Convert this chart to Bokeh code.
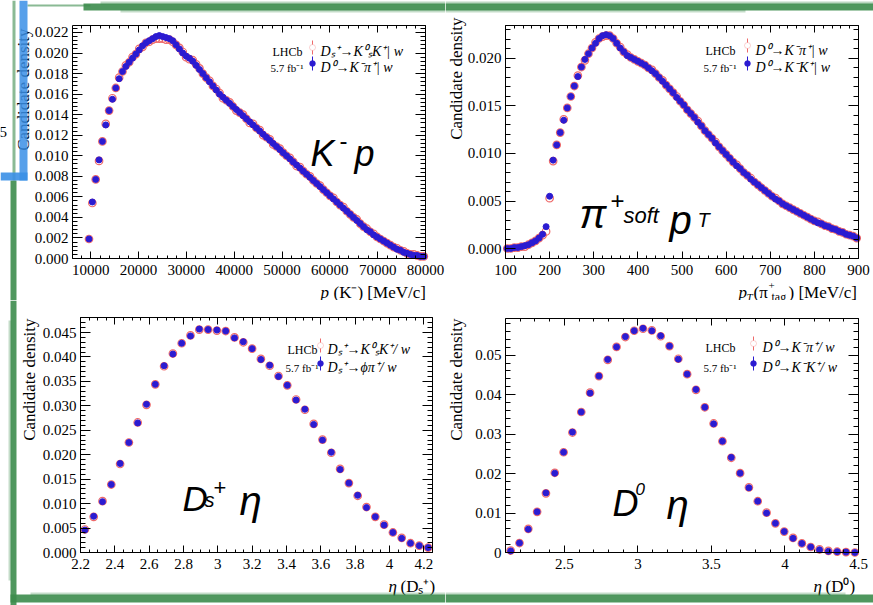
import numpy as np
from bokeh.plotting import figure
from bokeh.layouts import column, row
from bokeh.models import (LinearAxis, Label, BoxAnnotation, SingleIntervalTicker,
                          CustomJSTickFormatter, Range1d)
from bokeh.embed import file_html
from bokeh.resources import INLINE

# ---------------------------------------------------------------- data
# Kaon momentum p(K-) [MeV/c]: bin centres start / width
KP_START, KP_STEP = 9650, 700
kp_d0_kpi = [0.0019, 0.0055, 0.0077, 0.0096, 0.0114, 0.0130, 0.0144, 0.0155, 0.0166, 0.0175,
             0.0182, 0.0187, 0.0191, 0.0195, 0.0199, 0.0203, 0.0207, 0.0210, 0.0212, 0.0214,
             0.0216, 0.0217, 0.0216, 0.0215, 0.0214, 0.0212, 0.0208, 0.0204, 0.0200, 0.0197,
             0.0195, 0.0192, 0.0188, 0.0184, 0.0180, 0.0176, 0.0172, 0.0168, 0.0164, 0.0160,
             0.0157, 0.0154, 0.0151, 0.0148, 0.0145, 0.0142, 0.0139, 0.0136, 0.0133, 0.0130,
             0.0127, 0.0124, 0.0121, 0.0118, 0.0115, 0.0112, 0.0109, 0.0106, 0.0103, 0.0100,
             0.0097, 0.0094, 0.0091, 0.0088, 0.0085, 0.0082, 0.0079, 0.0076, 0.0073, 0.0070,
             0.0067, 0.0064, 0.0061, 0.0058, 0.0055, 0.0052, 0.0049, 0.0046, 0.0043, 0.0040,
             0.0037, 0.0034, 0.0031, 0.0028, 0.0026, 0.0023, 0.0021, 0.0019, 0.0017, 0.0015,
             0.0013, 0.0011, 0.0009, 0.0008, 0.0006, 0.0005, 0.0004, 0.0003, 0.0003, 0.0002,
             0.0002]
kp_ds_kskw = [0.0019, 0.0054, 0.0077, 0.0095, 0.0114, 0.0131, 0.0144, 0.0156, 0.0166, 0.0176,
              0.0182, 0.0188, 0.0191, 0.0196, 0.0199, 0.0204, 0.0206, 0.0210, 0.0211, 0.0213,
              0.0214, 0.0214, 0.0214, 0.0213, 0.0213, 0.0211, 0.0208, 0.0205, 0.0201, 0.0196,
              0.0194, 0.0193, 0.0189, 0.0185, 0.0180, 0.0176, 0.0173, 0.0168, 0.0165, 0.0161,
              0.0156, 0.0154, 0.0152, 0.0148, 0.0144, 0.0142, 0.0140, 0.0136, 0.0132, 0.0131,
              0.0127, 0.0125, 0.0120, 0.0118, 0.0116, 0.0111, 0.0109, 0.0107, 0.0103, 0.0100,
              0.0098, 0.0094, 0.0090, 0.0089, 0.0085, 0.0082, 0.0080, 0.0076, 0.0073, 0.0071,
              0.0067, 0.0064, 0.0061, 0.0059, 0.0055, 0.0052, 0.0050, 0.0046, 0.0043, 0.0040,
              0.0038, 0.0034, 0.0031, 0.0029, 0.0026, 0.0024, 0.0021, 0.0019, 0.0017, 0.0015,
              0.0013, 0.0011, 0.0010, 0.0008, 0.0007, 0.0005, 0.0004, 0.0004, 0.0003, 0.0002,
              0.0002]

# Soft (tagging) pion transverse momentum [MeV/c]
PT_START, PT_STEP = 104, 8
pt_d0_kk = [0.0000, 0.0000, 0.0001, 0.0001, 0.0002, 0.0003, 0.0004, 0.0006, 0.0008, 0.0011,
            0.0015, 0.0023, 0.0055, 0.0093, 0.0109, 0.0122, 0.0135, 0.0148, 0.0160, 0.0171,
            0.0181, 0.0191, 0.0199, 0.0205, 0.0211, 0.0216, 0.0221, 0.0224, 0.0225, 0.0224,
            0.0221, 0.0216, 0.0211, 0.0207, 0.0203, 0.0201, 0.0199, 0.0197, 0.0195, 0.0193,
            0.0190, 0.0187, 0.0184, 0.0180, 0.0176, 0.0172, 0.0168, 0.0164, 0.0159, 0.0155,
            0.0151, 0.0146, 0.0142, 0.0138, 0.0133, 0.0129, 0.0124, 0.0120, 0.0116, 0.0111,
            0.0107, 0.0103, 0.0099, 0.0095, 0.0091, 0.0087, 0.0084, 0.0080, 0.0077, 0.0073,
            0.0070, 0.0067, 0.0064, 0.0061, 0.0058, 0.0055, 0.0052, 0.0050, 0.0047, 0.0045,
            0.0043, 0.0041, 0.0039, 0.0037, 0.0035, 0.0033, 0.0031, 0.0029, 0.0027, 0.0026,
            0.0024, 0.0023, 0.0021, 0.0020, 0.0018, 0.0017, 0.0015, 0.0014, 0.0013, 0.0011]
pt_d0_kpi = [0.0000, 0.0000, 0.0001, 0.0001, 0.0002, 0.0002, 0.0004, 0.0006, 0.0008, 0.0011,
             0.0014, 0.0018, 0.0053, 0.0092, 0.0109, 0.0122, 0.0136, 0.0148, 0.0160, 0.0171,
             0.0182, 0.0191, 0.0198, 0.0205, 0.0211, 0.0217, 0.0221, 0.0223, 0.0224, 0.0224,
             0.0221, 0.0216, 0.0212, 0.0207, 0.0204, 0.0201, 0.0199, 0.0197, 0.0195, 0.0193,
             0.0190, 0.0188, 0.0184, 0.0180, 0.0177, 0.0172, 0.0168, 0.0164, 0.0160, 0.0155,
             0.0151, 0.0146, 0.0142, 0.0138, 0.0134, 0.0129, 0.0124, 0.0120, 0.0116, 0.0112,
             0.0107, 0.0103, 0.0099, 0.0095, 0.0091, 0.0088, 0.0084, 0.0080, 0.0077, 0.0074,
             0.0070, 0.0067, 0.0064, 0.0061, 0.0058, 0.0055, 0.0053, 0.0050, 0.0047, 0.0045,
             0.0043, 0.0041, 0.0039, 0.0037, 0.0035, 0.0033, 0.0031, 0.0029, 0.0028, 0.0026,
             0.0024, 0.0023, 0.0021, 0.0020, 0.0018, 0.0017, 0.0015, 0.0014, 0.0013, 0.0011]

# Ds+ pseudorapidity
ETA_DS_START, ETA_DS_STEP = 2.2256, 0.05125
eta_ds_phipi = [0.0046, 0.0074, 0.0104, 0.0139, 0.0182, 0.0225, 0.0265, 0.0303, 0.0344, 0.0382,
                0.0406, 0.0428, 0.0443, 0.0457, 0.0456, 0.0455, 0.0453, 0.0439, 0.0431, 0.0417,
                0.0395, 0.0383, 0.0360, 0.0342, 0.0312, 0.0293, 0.0262, 0.0230, 0.0205, 0.0170,
                0.0142, 0.0117, 0.0092, 0.0073, 0.0056, 0.0041, 0.0029, 0.0019, 0.0014, 0.0010]
eta_ds_kskw = [0.0047, 0.0073, 0.0105, 0.0139, 0.0181, 0.0225, 0.0266, 0.0302, 0.0344, 0.0381,
               0.0407, 0.0428, 0.0444, 0.0456, 0.0456, 0.0454, 0.0453, 0.0440, 0.0430, 0.0417,
               0.0396, 0.0382, 0.0361, 0.0342, 0.0313, 0.0292, 0.0263, 0.0231, 0.0204, 0.0171,
               0.0142, 0.0116, 0.0093, 0.0073, 0.0057, 0.0041, 0.0030, 0.0019, 0.0014, 0.0010]

# D0 pseudorapidity
ETA_D0_START, ETA_D0_STEP = 2.135, 0.06
eta_d0_kk = [0.0004, 0.0024, 0.0059, 0.0103, 0.0151, 0.0201, 0.0254, 0.0305, 0.0356, 0.0404,
             0.0447, 0.0489, 0.0521, 0.0547, 0.0562, 0.0568, 0.0562, 0.0549, 0.0523, 0.0490,
             0.0452, 0.0413, 0.0368, 0.0326, 0.0282, 0.0241, 0.0201, 0.0164, 0.0130, 0.0100,
             0.0074, 0.0053, 0.0036, 0.0023, 0.0014, 0.0007, 0.0003, 0.0002, 0.0001, 0.0000]
eta_d0_kpi = [0.0005, 0.0024, 0.0060, 0.0103, 0.0150, 0.0202, 0.0254, 0.0304, 0.0356, 0.0405,
              0.0447, 0.0488, 0.0521, 0.0546, 0.0562, 0.0567, 0.0563, 0.0548, 0.0523, 0.0491,
              0.0452, 0.0412, 0.0368, 0.0327, 0.0282, 0.0240, 0.0201, 0.0165, 0.0130, 0.0101,
              0.0074, 0.0053, 0.0037, 0.0023, 0.0014, 0.0008, 0.0004, 0.0002, 0.0001, 0.0000]

# ---------------------------------------------------------------- style
SERIF = "Liberation Serif"
SANS = "Liberation Sans"
BLUE = "#2b1bd1"
RED = "#ee6a6a"
GREEN = "#3c8c4c"
BRACKET = "#3a8fe6"

FMT_INT = CustomJSTickFormatter(code="return tick.toFixed(0)")
FMT_3 = CustomJSTickFormatter(code="return tick.toFixed(3)")
FMT_TRIM = CustomJSTickFormatter(code="return String(parseFloat(tick.toFixed(3)))")


def centres(start, step, vals):
    return [start + step * i for i in range(len(vals))]


def style_axis(ax, ticker, fmt, tick_len, labels=True, standoff=5):
    ax.ticker = ticker
    ax.formatter = fmt
    ax.axis_line_color = "black"
    ax.axis_line_width = 1
    ax.major_tick_in = tick_len
    ax.major_tick_out = 0
    ax.minor_tick_in = tick_len // 2
    ax.minor_tick_out = 0
    ax.major_tick_line_color = "black"
    ax.minor_tick_line_color = "black"
    ax.axis_label = None
    ax.major_label_text_font = SERIF
    ax.major_label_text_font_size = "15px"
    ax.major_label_standoff = standoff
    ax.major_label_text_color = "black" if labels else None


def panel(W, H, box_px, box_data, xtick, ytick, xfmt, yfmt):
    """A figure whose frame fills the canvas; the ROOT-style box is drawn by
    axes pinned at the box edges, so texts around it are never clipped."""
    bl, br, bt, bb = box_px
    x0, x1, y0, y1 = box_data
    sx = (x1 - x0) / (br - bl)
    sy = (y1 - y0) / (bb - bt)
    p = figure(width=W, height=H, output_backend="svg", toolbar_location=None,
               x_range=Range1d(x0 - bl * sx, x1 + (W - br) * sx),
               y_range=Range1d(y0 - (H - bb) * sy, y1 + bt * sy),
               min_border=0, min_border_left=0, min_border_right=0,
               min_border_top=0, min_border_bottom=0)
    p.title.visible = False
    p.xgrid.grid_line_color = None
    p.ygrid.grid_line_color = None
    p.outline_line_color = None
    p.background_fill_color = "white"
    p.border_fill_color = "white"

    xa, ya = p.xaxis[0], p.yaxis[0]
    style_axis(xa, xtick, xfmt, 7, standoff=6)
    style_axis(ya, ytick, yfmt, 10, standoff=4)
    xa.fixed_location, xa.bounds = y0, (x0, x1)
    ya.fixed_location, ya.bounds = x0, (y0, y1)

    top_ax = LinearAxis(fixed_location=y1, bounds=(x0, x1))
    style_axis(top_ax, xtick, xfmt, 7, labels=False)
    right_ax = LinearAxis(fixed_location=x1, bounds=(y0, y1))
    style_axis(right_ax, ytick, yfmt, 10, labels=False)
    p.add_layout(top_ax, "above")
    p.add_layout(right_ax, "right")
    return p


def points(p, x, red_vals, blue_vals):
    p.scatter(centres(*x, red_vals), red_vals, marker="circle", size=7.5,
              fill_color=None, line_color=RED, line_width=1.2)
    p.scatter(centres(*x, blue_vals), blue_vals, marker="circle", size=6,
              fill_color=BLUE, line_color=BLUE)


def txt(p, x, y, s, size, font=SERIF, style="normal", align="left",
        baseline="alphabetic", angle=0.0, color="black"):
    p.add_layout(Label(x=x, y=y, x_units="canvas", y_units="canvas", text=s,
                       text_font=font, text_font_size=f"{size}px",
                       text_font_style=style, text_align=align,
                       text_baseline=baseline, angle=angle, text_color=color))


def box(p, l, t, r, b, color, alpha=1.0, line_color=None, radius=0):
    p.add_layout(BoxAnnotation(left=l, right=r, top=t, bottom=b,
                               left_units="canvas", right_units="canvas",
                               top_units="canvas", bottom_units="canvas",
                               fill_color=color, fill_alpha=alpha,
                               line_color=line_color, line_width=1,
                               border_radius=radius))


def legend(p, x_lhcb, x_mark, x_text, rows, entries):
    (y1, c1), (y2, c2) = rows
    txt(p, x_lhcb, y1, "LHCb", 12)
    txt(p, x_lhcb - 2, y2, "5.7 fb\u207b\u00b9", 11)
    # red open marker with its error bar
    box(p, x_mark - 0.5, c1 - 7, x_mark + 0.5, c1 + 7, RED)
    box(p, x_mark - 3, c1 - 3, x_mark + 3, c1 + 3, "white", line_color=RED, radius=3)
    # blue filled marker with its error bar
    box(p, x_mark - 0.5, c2 - 7, x_mark + 0.5, c2 + 7, BLUE)
    box(p, x_mark - 3, c2 - 3, x_mark + 3, c2 + 3, BLUE, line_color=BLUE, radius=3)
    txt(p, x_text, y1, entries[0], 14, style="italic")
    txt(p, x_text, y2, entries[1], 14, style="italic")


def ylabel(p, x, y):
    txt(p, x, y, "Candidate density", 17, align="right", baseline="middle", angle=np.pi / 2)


# ---------------------------------------------------------------- p(K-)
p1 = panel(445, 300, (72, 425, 25, 258), (6200, 80000, 0, 0.02268),
           SingleIntervalTicker(interval=10000, num_minor_ticks=5),
           SingleIntervalTicker(interval=0.002, num_minor_ticks=5), FMT_INT, FMT_3)
points(p1, (KP_START, KP_STEP), kp_ds_kskw, kp_d0_kpi)
ylabel(p1, 23, 28)
txt(p1, 320, 292, "p", 17, style="italic")
txt(p1, 333, 292, "(K\u207b) [MeV/c]", 17)
legend(p1, 272, 312, 320, ((51, 47), (67, 63)),
       ("D\u209b\u207a\u2192K\u2070\u209bK\u207a| w", "D\u2070\u2192K\u207b\u03c0\u207a| w"))
txt(p1, 310, 153, "K", 36, font=SANS, style="italic")
txt(p1, 339, 140, "-", 24, font=SANS)
txt(p1, 354, 153, "p", 36, font=SANS, style="italic")
txt(p1, -1, 131, "5", 15)

# ---------------------------------------------------------------- soft pion pT
p2 = panel(428, 300, (60, 413, 25, 258), (100, 900, -0.00105, 0.02347),
           SingleIntervalTicker(interval=100, num_minor_ticks=5),
           SingleIntervalTicker(interval=0.005, num_minor_ticks=5), FMT_INT, FMT_3)
points(p2, (PT_START, PT_STEP), pt_d0_kpi, pt_d0_kk)
ylabel(p2, 11, 17)
txt(p2, 293, 292, "p", 17, style="italic")
txt(p2, 301, 296, "T", 11, style="italic")
txt(p2, 308, 292, "(\u03c0", 17)
txt(p2, 323, 285, "+", 11)
txt(p2, 326, 296, "tag", 12)
txt(p2, 343, 292, ") [MeV/c]", 17)
legend(p2, 260, 302, 310, ((50, 45), (67, 63)),
       ("D\u2070\u2192K\u207b\u03c0\u207a| w", "D\u2070\u2192K\u207bK\u207a| w"))
txt(p2, 134, 213, "\u03c0", 40, font=SANS, style="italic")
txt(p2, 165, 200, "+", 24, font=SANS)
txt(p2, 178, 215, "soft", 22, font=SANS, style="italic")
txt(p2, 224, 219, "p", 40, font=SANS, style="italic")
txt(p2, 252, 219, "T", 20, font=SANS, style="italic")

# ---------------------------------------------------------------- eta(Ds+)
p3 = panel(445, 305, (80, 432, 17, 252), (2.2, 4.25, 0, 0.04807),
           SingleIntervalTicker(interval=0.2, num_minor_ticks=4),
           SingleIntervalTicker(interval=0.005, num_minor_ticks=5), FMT_TRIM, FMT_3)
points(p3, (ETA_DS_START, ETA_DS_STEP), eta_ds_kskw, eta_ds_phipi)
ylabel(p3, 29, 18)
txt(p3, 388, 286, "\u03b7", 17, style="italic")
txt(p3, 400, 286, "(D\u209b\u207a)", 17)
legend(p3, 287, 320, 327, ((49, 45), (67, 63)),
       ("D\u209b\u207a\u2192K\u2070\u209bK\u207a/ w", "D\u209b\u207a\u2192\u03d5\u03c0\u207a/ w"))
txt(p3, 182, 198, "D", 35, font=SANS, style="italic")
txt(p3, 204, 199, "s", 20, font=SANS, style="italic")
txt(p3, 213, 187, "+", 22, font=SANS)
txt(p3, 239, 200, "\u03b7", 40, font=SANS, style="italic")

# ---------------------------------------------------------------- eta(D0)
p4 = panel(428, 305, (60, 413, 18, 252), (2.1, 4.5, 0, 0.0593),
           SingleIntervalTicker(interval=0.5, num_minor_ticks=5),
           SingleIntervalTicker(interval=0.01, num_minor_ticks=5), FMT_TRIM, FMT_TRIM)
points(p4, (ETA_D0_START, ETA_D0_STEP), eta_d0_kpi, eta_d0_kk)
ylabel(p4, 11, 18)
txt(p4, 368, 286, "\u03b7", 17, style="italic")
txt(p4, 380, 286, "(D\u2070)", 17)
legend(p4, 260, 308, 317, ((47, 43), (67, 63)),
       ("D\u2070\u2192K\u207b\u03c0\u207a/ w", "D\u2070\u2192K\u207bK\u207a/ w"))
txt(p4, 167, 203, "D", 36, font=SANS, style="italic")
txt(p4, 190, 188, "0", 17, font=SANS, style="italic")
txt(p4, 221, 204, "\u03b7", 40, font=SANS, style="italic")

# ---------------------------------------------------------------- frame strokes
# green brush frame: top edge
box(p1, 27, 4, 90, 6, GREEN, 0.6)
box(p1, 83, 3, 445, 10, GREEN, 0.9)
box(p1, 100, 1, 445, 4, GREEN, 0.35)
box(p1, 120, 9, 445, 12, GREEN, 0.3)
box(p2, 0, 3, 428, 10, GREEN, 0.9)
box(p2, 0, 1, 428, 4, GREEN, 0.35)
box(p2, 0, 9, 300, 12, GREEN, 0.3)
# left edge
box(p1, 12, 0, 15, 180, GREEN, 0.6)
box(p1, 10, 180, 16, 300, GREEN, 0.9)
box(p3, 10, 0, 16, 305, GREEN, 0.9)
box(p3, 8, 20, 11, 280, GREEN, 0.3)
# bottom edge
box(p3, 10, 294, 445, 302, GREEN, 0.9)
box(p4, 0, 294, 428, 302, GREEN, 0.9)
box(p3, 30, 292, 445, 295, GREEN, 0.3)
box(p4, 0, 292, 400, 295, GREEN, 0.3)
# blue bracket in the upper-left corner
box(p1, 19, 0, 27, 180, BRACKET, 0.85)
box(p1, 0, 172, 27, 180, BRACKET, 0.9)

layout = column(row(p1, p2), row(p3, p4))

with open("out.html", "w") as f:
    f.write(file_html(layout, INLINE))
